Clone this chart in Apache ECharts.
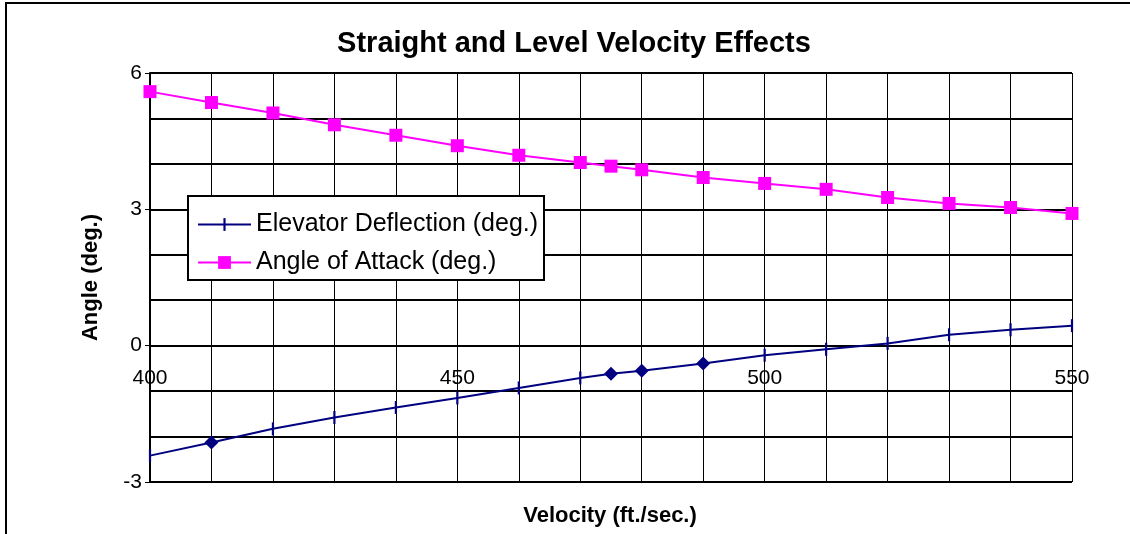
<!DOCTYPE html>
<html>
<head>
<meta charset="utf-8">
<script src="https://cdn.jsdelivr.net/npm/echarts@6/dist/echarts.min.js"></script>
<style>
html,body{margin:0;padding:0;background:#fff;}
#chart{width:1130px;height:534px;}
</style>
</head>
<body>
<div id="chart"></div>
<script>
// ---- data ----
const velocity = [400, 410, 420, 430, 440, 450, 460, 470, 475, 480, 490, 500, 510, 520, 530, 540, 550];
const elevatorDeflection = [-2.42, -2.13, -1.83, -1.58, -1.36, -1.15, -0.93, -0.71, -0.62, -0.55, -0.39, -0.21, -0.08, 0.05, 0.24, 0.35, 0.44];
const angleOfAttack = [5.59, 5.35, 5.12, 4.86, 4.63, 4.40, 4.19, 4.03, 3.95, 3.87, 3.70, 3.57, 3.44, 3.26, 3.13, 3.04, 2.91];
const seriesNames = ['Elevator Deflection (deg.)', 'Angle of Attack (deg.)'];
const chartTitle = 'Straight and Level Velocity Effects';
const xAxisTitle = 'Velocity (ft./sec.)';
const yAxisTitle = 'Angle (deg.)';
const yMin = -3, yMax = 6;

// velocities whose elevator marker is drawn as a diamond in the reference
const diamondVelocities = [410, 475, 480, 490];

const FONT = '"Liberation Sans", Arial, sans-serif';
// square bounding box (via move-to corners) with a thin vertical bar in the middle
const dashPath = 'path://M0,0 M13,13 M5.4,0 L7.6,0 L7.6,13 L5.4,13 Z';

const elevatorData = velocity.map((v, i) => {
  if (diamondVelocities.includes(v)) {
    return { value: [v, elevatorDeflection[i]], symbol: 'diamond', symbolSize: 14 };
  }
  return { value: [v, elevatorDeflection[i]] };
});
const aoaData = velocity.map((v, i) => [v, angleOfAttack[i]]);

const GRID_TOP = 73, GRID_BOTTOM = 52, CHART_H = 534;
const plotH = CHART_H - GRID_TOP - GRID_BOTTOM;
// move the x axis up so it sits on y = 0 (the axis crosses there in the reference)
const zeroOffset = -plotH * (0 - yMin) / (yMax - yMin);

const chart = echarts.init(document.getElementById('chart'), null, { renderer: 'canvas' });
chart.setOption({
  animation: false,
  backgroundColor: '#ffffff',
  title: [
    {
      text: chartTitle,
      left: 574,
      textAlign: 'center',
      top: 29,
      padding: 0,
      textStyle: { fontFamily: FONT, fontSize: 29, fontWeight: 'bold', color: '#000' }
    },
    {
      text: xAxisTitle,
      left: 610,
      textAlign: 'center',
      top: 505,
      padding: 0,
      textStyle: { fontFamily: FONT, fontSize: 22, fontWeight: 'bold', color: '#000' }
    }
  ],
  graphic: [
    { type: 'rect', z: 100, silent: true, shape: { x: 6, y: 3, width: 1200, height: 620 },
      style: { fill: 'none', stroke: '#000', lineWidth: 2 } },
    { type: 'rect', z: 5, silent: true, shape: { x: 188, y: 196, width: 356, height: 84 },
      style: { fill: '#fff', stroke: '#000', lineWidth: 2 } }
  ],
  legend: {
    z: 6,
    orient: 'vertical',
    left: 197,
    top: 212,
    padding: 0,
    itemWidth: 53,
    itemHeight: 16,
    itemGap: 13,
    data: seriesNames,
    textStyle: { fontFamily: FONT, fontSize: 25, color: '#000' }
  },
  grid: { left: 150, right: 58, top: GRID_TOP, bottom: GRID_BOTTOM, containLabel: false, outerBoundsMode: 'none' },
  xAxis: {
    type: 'value',
    min: 400, max: 550, interval: 50,
    offset: zeroOffset,
    axisLine: { onZero: false, lineStyle: { color: '#000', width: 2 } },
    axisTick: { show: true, length: 6, lineStyle: { color: '#000', width: 1 } },
    axisLabel: { margin: 22, fontFamily: FONT, fontSize: 21, color: '#000' },
    splitLine: { show: true, lineStyle: { color: '#000', width: 1 } },
    minorTick: { show: false, splitNumber: 5 },
    minorSplitLine: { show: true, lineStyle: { color: '#000', width: 1 } }
  },
  yAxis: {
    type: 'value',
    min: yMin, max: yMax, interval: 3,
    name: yAxisTitle,
    nameLocation: 'middle',
    nameGap: 48,
    nameTextStyle: { fontFamily: FONT, fontSize: 22, fontWeight: 'bold', color: '#000' },
    axisLine: { onZero: false, lineStyle: { color: '#000', width: 2 } },
    axisTick: { show: true, length: 5, lineStyle: { color: '#000', width: 1 } },
    axisLabel: { margin: 8, fontFamily: FONT, fontSize: 21, color: '#000' },
    splitLine: { show: true, lineStyle: { color: '#000', width: 2 } },
    minorTick: { show: false, splitNumber: 3 },
    minorSplitLine: { show: true, lineStyle: { color: '#000', width: 2 } }
  },
  series: [
    {
      name: seriesNames[0],
      type: 'line',
      data: elevatorData,
      symbol: dashPath,
      symbolSize: 13,
      showAllSymbol: true,
      color: '#000080',
      lineStyle: { color: '#000080', width: 2 },
      itemStyle: { color: '#000080', borderWidth: 0 },
      z: 3
    },
    {
      name: seriesNames[1],
      type: 'line',
      data: aoaData,
      symbol: 'rect',
      symbolSize: 13,
      showAllSymbol: true,
      color: '#ff00ff',
      lineStyle: { color: '#ff00ff', width: 2 },
      itemStyle: { color: '#ff00ff', borderWidth: 0 },
      z: 3
    }
  ]
});
</script>
</body>
</html>
